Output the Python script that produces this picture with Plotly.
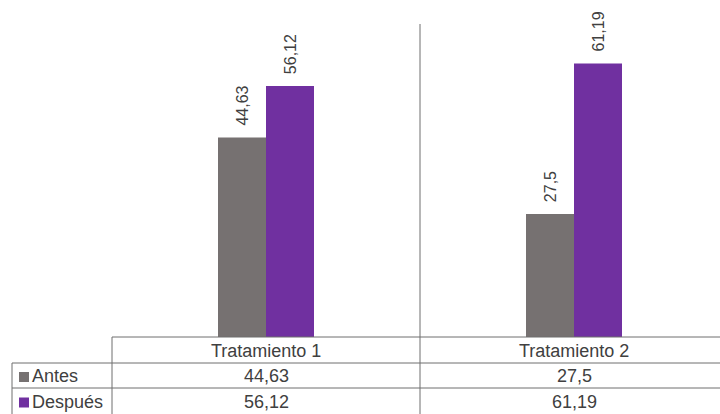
import plotly.graph_objects as go

categorias = ["Tratamiento 1", "Tratamiento 2"]
series = ["Antes", "Después"]
antes = [44.63, 27.5]
despues = [56.12, 61.19]
colores = {"Antes": "#767171", "Después": "#7030A0"}

valores = {"Antes": antes, "Después": despues}


def fmt(v):
    return str(v).replace(".", ",")


W, H = 720, 414
LEFT, TOP, BASE = 112, 24, 337     # plot area in page pixels
PH = BASE - TOP
PW = W - LEFT
CAT_PX = 308                       # pixel width of a category slot


def py(y_page):
    return (BASE - y_page) / PH


def px_(x_page):
    return (x_page - LEFT) / PW


fig = go.Figure()
for s in series:
    fig.add_trace(go.Bar(
        x=categorias, y=valores[s], name=s,
        marker=dict(color=colores[s], line=dict(width=0)),
        text=["\u00a0\u00a0" + fmt(v) for v in valores[s]],
        textposition="outside", textangle=-90,
        textfont=dict(family="Liberation Sans, Arial", size=16, color="#404040"),
        cliponaxis=False, constraintext="none",
    ))

line = dict(color="#6f6f6f", width=1)
shapes = [
    # category separator
    dict(type="line", xref="x", yref="paper", x0=0.5, x1=0.5, y0=1, y1=py(H + 5), line=line),
    # table horizontal lines
    dict(type="line", xref="paper", yref="paper", x0=0, x1=1, y0=0, y1=0, line=line),
    dict(type="line", xref="paper", yref="paper", x0=px_(12), x1=1, y0=py(363), y1=py(363), line=line),
    dict(type="line", xref="paper", yref="paper", x0=px_(12), x1=1, y0=py(388), y1=py(388), line=line),
    # table verticals
    dict(type="line", xref="paper", yref="paper", x0=0, x1=0, y0=0, y1=py(H + 5), line=line),
    dict(type="line", xref="paper", yref="paper", x0=px_(12), x1=px_(12), y0=py(363), y1=py(H + 5), line=line),
]

tfont = dict(family="Liberation Sans, Arial", size=18, color="#404040")
ann = []
for i, c in enumerate(categorias):
    ann.append(dict(x=i, y=py(350.5), xref="x", yref="paper", yanchor="middle",
                    text=c, showarrow=False, font=tfont))
row_y = {"Antes": 376, "Después": 401.5}
for s in series:
    # legend key square in the table
    shapes.append(dict(type="rect", xref="paper", yref="paper",
                       x0=px_(19), x1=px_(29), y0=py(row_y[s] - 4), y1=py(row_y[s] + 6),
                       fillcolor=colores[s], line=dict(width=0)))
    ann.append(dict(x=px_(30), y=py(row_y[s]), xref="paper", yref="paper",
                    xanchor="left", yanchor="middle",
                    text=s, showarrow=False, font=tfont))
    for i, v in enumerate(valores[s]):
        ann.append(dict(x=i, y=py(row_y[s]), xref="x", yref="paper", yanchor="middle",
                        text=fmt(v), showarrow=False, font=tfont))

fig.update_layout(
    width=W, height=H,
    margin=dict(l=LEFT, r=0, t=TOP, b=H - BASE),
    paper_bgcolor="white", plot_bgcolor="white",
    barmode="group", bargap=1 - 96 / CAT_PX, bargroupgap=0,
    showlegend=False,
    xaxis=dict(range=[-0.5, -0.5 + PW / CAT_PX], showticklabels=False, showline=False,
               showgrid=False, zeroline=False, ticks=""),
    yaxis=dict(range=[0, 70], visible=False),
    shapes=shapes, annotations=ann,
)

fig.write_html("out.html", config={"displayModeBar": False},
               post_script="document.body.style.margin='0';document.body.style.overflow='hidden';")
